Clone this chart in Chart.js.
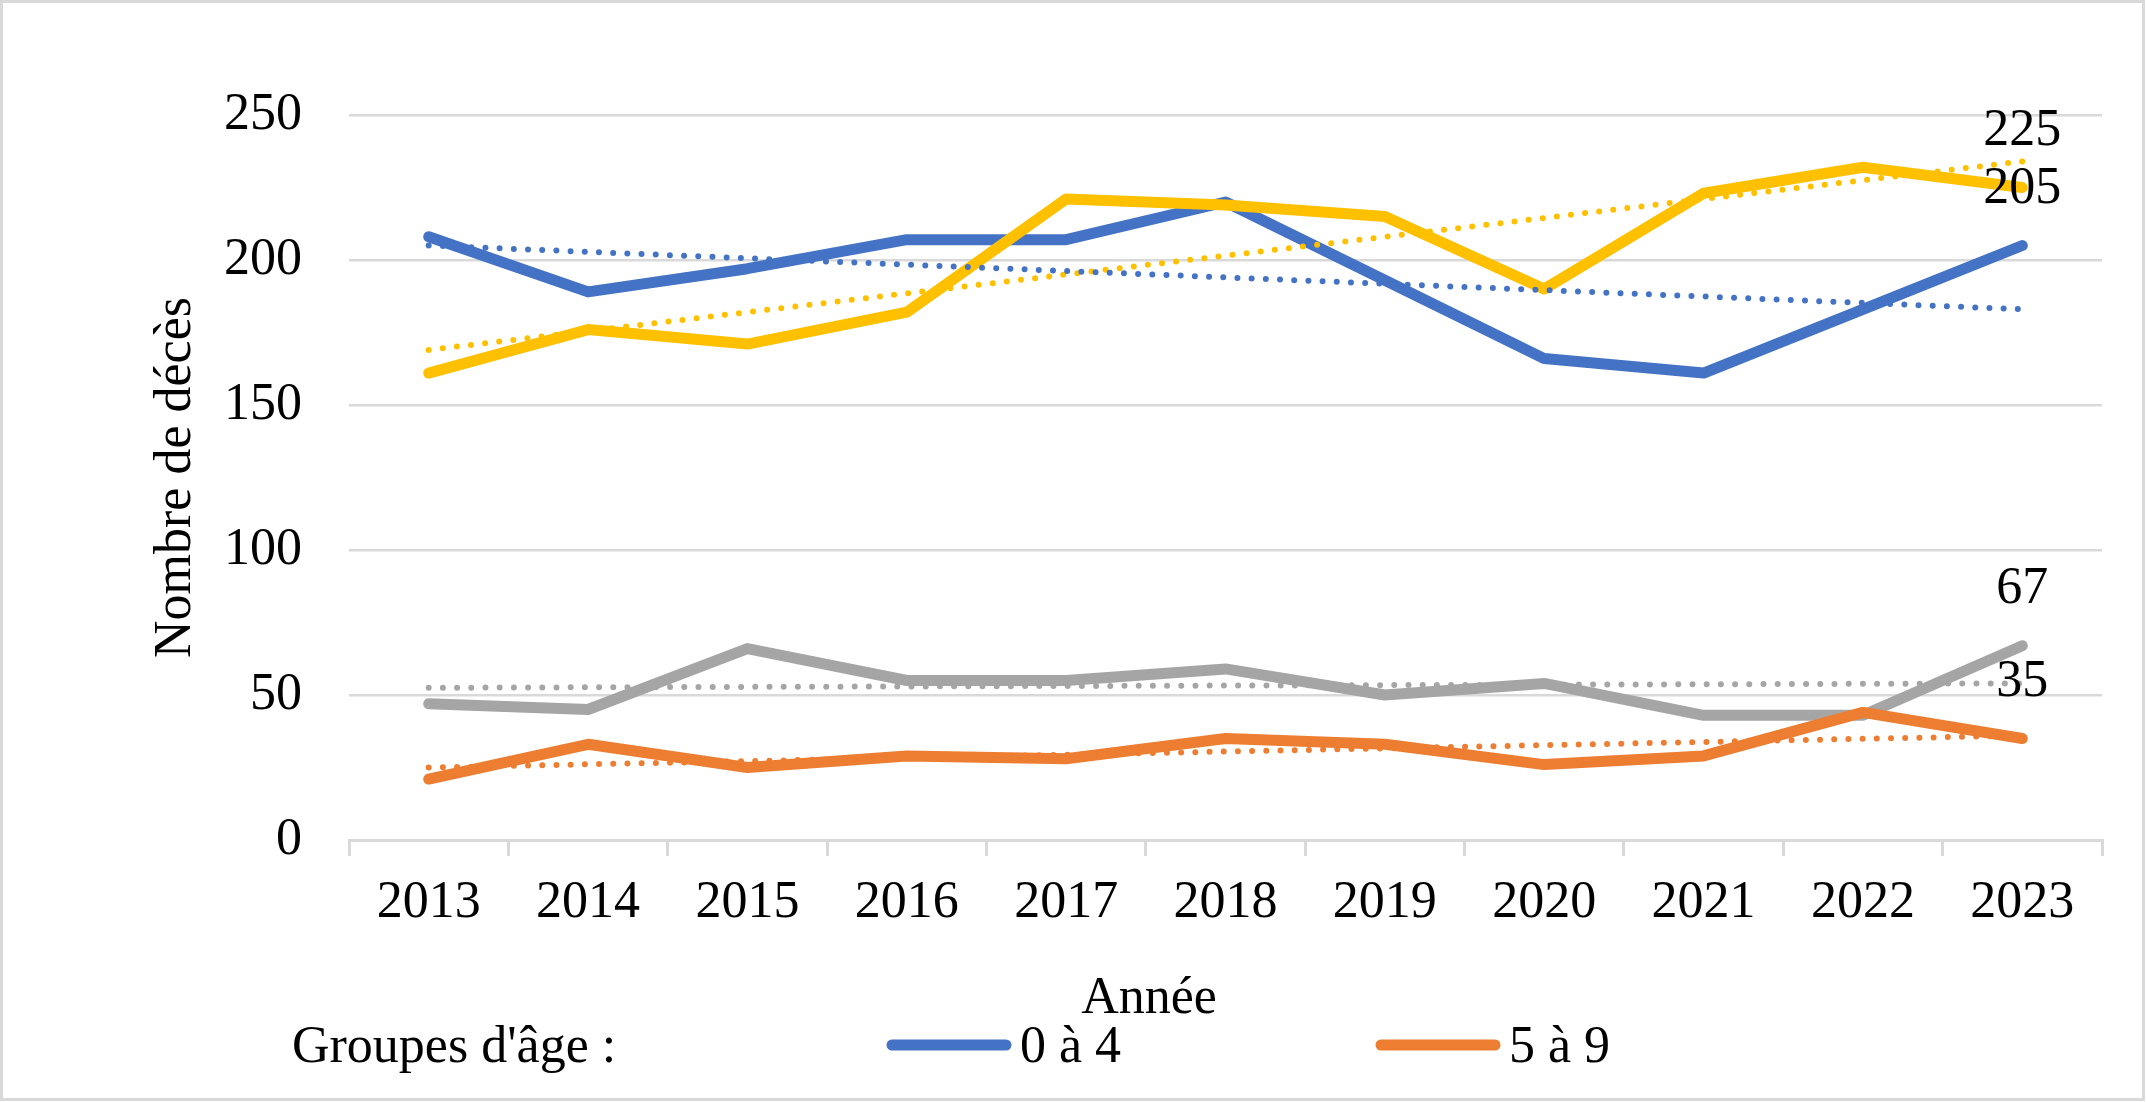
<!DOCTYPE html>
<html>
<head>
<meta charset="utf-8">
<title>Nombre de décès par groupe d'âge</title>
<script src="https://cdn.jsdelivr.net/npm/chart.js@4.4.0/dist/chart.umd.min.js"></script>
<style>
  html, body { margin: 0; padding: 0; background: #fff; }
  #wrap { width: 2147px; height: 1102px; }
</style>
</head>
<body>
<div id="wrap"><canvas id="deathsChart" width="2147" height="1102"></canvas></div>
<script>
const years = ['2013', '2014', '2015', '2016', '2017', '2018', '2019', '2020', '2021', '2022', '2023'];

// series
const age0to4 = [208, 189, 197, 207, 207, 220, 193, 166, 161, 183, 205];
const age5to9 = [21, 33, 25, 29, 28, 35, 33, 26, 29, 44, 35];
const age10to14 = [47, 45, 66, 55, 55, 59, 50, 54, 43, 43, 67];
const age15to19 = [161, 176, 171, 182, 221, 219, 215, 190, 223, 232, 225];

const trend0to4 = [205, null, null, null, null, null, null, null, null, null, 183];
const trend5to9 = [25, null, null, null, null, null, null, null, null, null, 36];
const trend10to14 = [52.5, null, null, null, null, null, null, null, null, null, 54];
const trend15to19 = [169, null, null, null, null, null, null, null, null, null, 234];

const yMin = 0, yMax = 250, yStep = 50;

const BLUE = '#4472C4', ORANGE = '#ED7D31', GRAY = '#A5A5A5', YELLOW = '#FFC000';
const GRID = '#D9D9D9';
const FONT = '"Liberation Serif", "DejaVu Serif", serif';
const FONT_SIZE = 52;

function seriesLine(label, data, color, order, inLegend) {
    return {
        label: label,
        data: data,
        borderColor: color,
        backgroundColor: color,
        borderWidth: 11,
        borderCapStyle: 'round',
        borderJoinStyle: 'round',
        pointRadius: 0,
        pointHoverRadius: 0,
        tension: 0,
        order: order,
        inLegend: inLegend,
        labelLast: true
    };
}

function trendLine(label, data, color) {
    return {
        label: label,
        data: data,
        borderColor: color,
        borderWidth: 6,
        borderDash: [0, 14.2],
        borderCapStyle: 'round',
        pointRadius: 0,
        pointHoverRadius: 0,
        spanGaps: true,
        order: 0
    };
}

// frame, free texts, legend and end labels
const decorations = {
    id: 'decorations',
    beforeDraw(chart) {
        const ctx = chart.ctx;
        ctx.save();
        ctx.fillStyle = '#fff';
        ctx.fillRect(0, 0, chart.width, chart.height);
        ctx.restore();
    },
    afterDraw(chart) {
        const ctx = chart.ctx;
        ctx.save();
        ctx.strokeStyle = GRID;
        ctx.lineWidth = 3;
        ctx.strokeRect(1.5, 1.5, chart.width - 5, chart.height - 4);

        ctx.font = FONT_SIZE + 'px ' + FONT;
        ctx.fillStyle = '#000';
        ctx.textBaseline = 'alphabetic';

        ctx.textAlign = 'center';
        ctx.fillText('Année', 1149, 1013);

        ctx.textAlign = 'left';
        ctx.fillText("Groupes d'âge :", 292, 1062);

        const legendX = [887, 1376];
        let k = 0;
        chart.data.datasets.forEach(ds => {
            if (!ds.inLegend) return;
            const x = legendX[k++];
            ctx.strokeStyle = ds.borderColor;
            ctx.lineWidth = 11;
            ctx.lineCap = 'round';
            ctx.beginPath();
            ctx.moveTo(x + 5, 1045);
            ctx.lineTo(x + 119, 1045);
            ctx.stroke();
            ctx.fillText(ds.label, x + 133, 1062);
        });

        ctx.textAlign = 'center';
        ctx.textBaseline = 'middle';
        chart.data.datasets.forEach((ds, i) => {
            if (!ds.labelLast) return;
            const pts = chart.getDatasetMeta(i).data;
            const pt = pts[pts.length - 1];
            ctx.fillText(String(ds.data[ds.data.length - 1]), pt.x, pt.y - 56);
        });
        ctx.restore();
    }
};

new Chart(document.getElementById('deathsChart'), {
    type: 'line',
    data: {
        labels: years,
        datasets: [
            seriesLine('0 à 4', age0to4, BLUE, 4, true),
            seriesLine('5 à 9', age5to9, ORANGE, 2, true),
            seriesLine('10 à 14', age10to14, GRAY, 3, false),
            seriesLine('15 à 19', age15to19, YELLOW, 1, false),
            trendLine('Tendance 0 à 4', trend0to4, BLUE),
            trendLine('Tendance 5 à 9', trend5to9, ORANGE),
            trendLine('Tendance 10 à 14', trend10to14, GRAY),
            trendLine('Tendance 15 à 19', trend15to19, YELLOW)
        ]
    },
    options: {
        responsive: false,
        animation: false,
        devicePixelRatio: 1,
        layout: { padding: { top: 115, right: 45, bottom: 0, left: 0 } },
        plugins: {
            legend: { display: false },
            tooltip: { enabled: false }
        },
        scales: {
            x: {
                offset: true,
                afterFit(scale) { scale.height = 262; },
                grid: {
                    offset: true,
                    drawOnChartArea: false,
                    drawTicks: true,
                    tickLength: 16,
                    color: GRID,
                    lineWidth: 3
                },
                border: { color: GRID, width: 3 },
                ticks: {
                    color: '#000',
                    padding: 16,
                    maxRotation: 0,
                    font: { family: FONT, size: FONT_SIZE }
                }
            },
            y: {
                min: yMin,
                max: yMax,
                afterFit(scale) { scale.width = 349; },
                grid: { color: GRID, lineWidth: 2.5, drawTicks: false },
                border: { display: false },
                ticks: {
                    stepSize: yStep,
                    color: '#000',
                    padding: 47,
                    font: { family: FONT, size: FONT_SIZE }
                },
                title: {
                    display: true,
                    text: 'Nombre de décès',
                    color: '#000',
                    padding: { top: 145, bottom: 0 },
                    font: { family: FONT, size: FONT_SIZE }
                }
            }
        }
    },
    plugins: [decorations]
});
</script>
</body>
</html>
